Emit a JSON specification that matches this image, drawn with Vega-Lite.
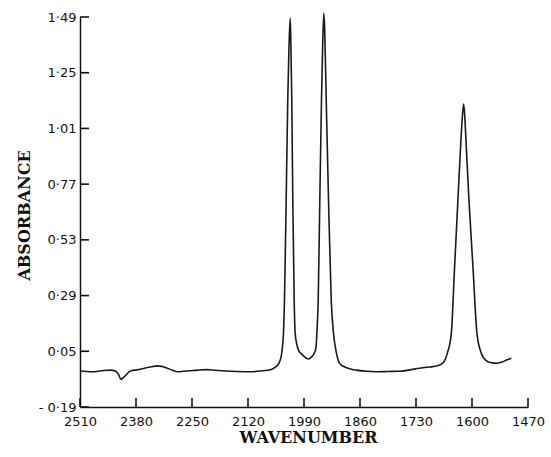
{
  "$schema": "https://vega.github.io/schema/vega-lite/v6.json",
  "width": 448,
  "height": 390,
  "autosize": {"type": "none"},
  "padding": {"left": 80, "top": 17, "right": 23, "bottom": 50},
  "background": "white",
  "config": {"view": {"stroke": null}},
  "datasets": {
    "spectrum": [
      {"wn": 2510, "a": -0.035}, {"wn": 2495, "a": -0.037}, {"wn": 2481, "a": -0.038}, {"wn": 2460, "a": -0.034},
      {"wn": 2438, "a": -0.031}, {"wn": 2430, "a": -0.034}, {"wn": 2426, "a": -0.038}, {"wn": 2420, "a": -0.052},
      {"wn": 2415, "a": -0.071}, {"wn": 2409, "a": -0.062}, {"wn": 2403, "a": -0.052}, {"wn": 2397, "a": -0.040},
      {"wn": 2391, "a": -0.034}, {"wn": 2378, "a": -0.030}, {"wn": 2365, "a": -0.025}, {"wn": 2348, "a": -0.018},
      {"wn": 2330, "a": -0.013}, {"wn": 2320, "a": -0.015}, {"wn": 2310, "a": -0.021}, {"wn": 2296, "a": -0.031},
      {"wn": 2283, "a": -0.038}, {"wn": 2270, "a": -0.036}, {"wn": 2256, "a": -0.034}, {"wn": 2237, "a": -0.031},
      {"wn": 2217, "a": -0.029}, {"wn": 2195, "a": -0.032}, {"wn": 2171, "a": -0.035}, {"wn": 2145, "a": -0.037},
      {"wn": 2117, "a": -0.038}, {"wn": 2090, "a": -0.035}, {"wn": 2066, "a": -0.028}, {"wn": 2058, "a": -0.020},
      {"wn": 2051, "a": -0.009}, {"wn": 2046, "a": 0.008}, {"wn": 2043, "a": 0.027}, {"wn": 2040, "a": 0.07},
      {"wn": 2037.7, "a": 0.127}, {"wn": 2035.3, "a": 0.271}, {"wn": 2031.4, "a": 0.702}, {"wn": 2027.7, "a": 1.133},
      {"wn": 2025, "a": 1.35}, {"wn": 2022, "a": 1.485}, {"wn": 2020.5, "a": 1.38}, {"wn": 2018.4, "a": 1.133},
      {"wn": 2016, "a": 0.702}, {"wn": 2012.8, "a": 0.271}, {"wn": 2010.5, "a": 0.127}, {"wn": 2006, "a": 0.075},
      {"wn": 2002, "a": 0.052}, {"wn": 1997, "a": 0.041}, {"wn": 1990, "a": 0.028}, {"wn": 1984, "a": 0.020},
      {"wn": 1979, "a": 0.017}, {"wn": 1974, "a": 0.024}, {"wn": 1968, "a": 0.036}, {"wn": 1965, "a": 0.047},
      {"wn": 1962, "a": 0.068}, {"wn": 1960.2, "a": 0.127}, {"wn": 1957, "a": 0.271}, {"wn": 1953.3, "a": 0.702},
      {"wn": 1949.4, "a": 1.133}, {"wn": 1946.5, "a": 1.38}, {"wn": 1944, "a": 1.506}, {"wn": 1942, "a": 1.44},
      {"wn": 1938.4, "a": 1.133}, {"wn": 1933.1, "a": 0.702}, {"wn": 1926.8, "a": 0.271}, {"wn": 1921.5, "a": 0.127},
      {"wn": 1915, "a": 0.045}, {"wn": 1907.5, "a": -0.002}, {"wn": 1895, "a": -0.018}, {"wn": 1880, "a": -0.027},
      {"wn": 1868.7, "a": -0.031}, {"wn": 1845, "a": -0.036}, {"wn": 1822, "a": -0.038}, {"wn": 1795, "a": -0.037},
      {"wn": 1768, "a": -0.036}, {"wn": 1745, "a": -0.030}, {"wn": 1721.6, "a": -0.023}, {"wn": 1705, "a": -0.019},
      {"wn": 1690.8, "a": -0.016}, {"wn": 1680, "a": -0.012}, {"wn": 1675, "a": -0.009}, {"wn": 1665, "a": 0.005},
      {"wn": 1657.3, "a": 0.041}, {"wn": 1648, "a": 0.127}, {"wn": 1640.4, "a": 0.414}, {"wn": 1632.7, "a": 0.702},
      {"wn": 1624.8, "a": 0.989}, {"wn": 1622, "a": 1.07}, {"wn": 1619.4, "a": 1.115}, {"wn": 1617, "a": 1.07},
      {"wn": 1614.8, "a": 0.989}, {"wn": 1607.1, "a": 0.702}, {"wn": 1597.8, "a": 0.414}, {"wn": 1588.5, "a": 0.127},
      {"wn": 1578.3, "a": 0.041}, {"wn": 1570, "a": 0.015}, {"wn": 1563, "a": 0.005}, {"wn": 1553, "a": 0.000},
      {"wn": 1543.5, "a": -0.002}, {"wn": 1530, "a": 0.004}, {"wn": 1520, "a": 0.012}, {"wn": 1508.6, "a": 0.020}
    ],
    "yticks": [{"a": -0.19}, {"a": 0.05}, {"a": 0.29}, {"a": 0.53}, {"a": 0.77}, {"a": 1.01}, {"a": 1.25}, {"a": 1.49}],
    "xticks": [{"wn": 2510}, {"wn": 2380}, {"wn": 2250}, {"wn": 2120}, {"wn": 1990}, {"wn": 1860}, {"wn": 1730}, {"wn": 1600}, {"wn": 1470}]
  },
  "layer": [
    {
      "data": {"name": "yticks"},
      "mark": {"type": "tick", "orient": "horizontal", "color": "#111", "size": 9, "thickness": 1.6, "xOffset": 4.5, "opacity": 1, "clip": false},
      "encoding": {
        "y": {"field": "a", "type": "quantitative"},
        "x": {"datum": 2510, "type": "quantitative"}
      }
    },
    {
      "data": {"name": "xticks"},
      "mark": {"type": "tick", "orient": "vertical", "color": "#111", "size": 9, "thickness": 1.6, "yOffset": -4.5, "opacity": 1, "clip": false},
      "encoding": {
        "x": {"field": "wn", "type": "quantitative"},
        "y": {"datum": -0.19, "type": "quantitative"}
      }
    },
    {
      "data": {"name": "spectrum"},
      "mark": {"type": "line", "interpolate": "monotone", "color": "#1a1a1a", "strokeWidth": 1.6, "clip": false},
      "encoding": {
        "x": {
          "field": "wn", "type": "quantitative",
          "scale": {"domain": [1470, 2510], "reverse": true, "nice": false, "zero": false},
          "axis": {
            "values": [2510, 2380, 2250, 2120, 1990, 1860, 1730, 1600, 1470],
            "labelExpr": "format(datum.value, 'd')",
            "title": "WAVENUMBER",
            "titleFont": "DejaVu Serif", "titleFontWeight": "bold", "titleFontSize": 16, "titleColor": "#111",
            "titleX": 228, "titleY": 30, "titleBaseline": "middle", "titleAlign": "center",
            "labelFont": "DejaVu Sans", "labelFontSize": 13, "labelColor": "#111", "labelPadding": 8,
            "labelFlush": false, "labelOverlap": false,
            "ticks": false,
            "domainColor": "#111", "domainWidth": 1.5, "grid": false
          }
        },
        "y": {
          "field": "a", "type": "quantitative",
          "scale": {"domain": [-0.19, 1.49], "nice": false, "zero": false},
          "axis": {
            "values": [-0.19, 0.05, 0.29, 0.53, 0.77, 1.01, 1.25, 1.49],
            "labelExpr": "(datum.value < 0 ? '- ' : '') + replace(format(abs(datum.value), '.2f'), '.', '·')",
            "title": "ABSORBANCE",
            "titleFont": "DejaVu Serif", "titleFontWeight": "bold", "titleFontSize": 16, "titleColor": "#111",
            "titleX": -56, "titleY": 198, "titleBaseline": "middle", "titleAlign": "center", "titleAngle": -90,
            "labelFont": "DejaVu Sans", "labelFontSize": 13, "labelColor": "#111", "labelPadding": 4,
            "labelFlush": false, "labelOverlap": false,
            "ticks": false,
            "domainColor": "#111", "domainWidth": 1.5, "grid": false
          }
        },
        "order": {"field": "wn", "sort": "descending"}
      }
    }
  ]
}
